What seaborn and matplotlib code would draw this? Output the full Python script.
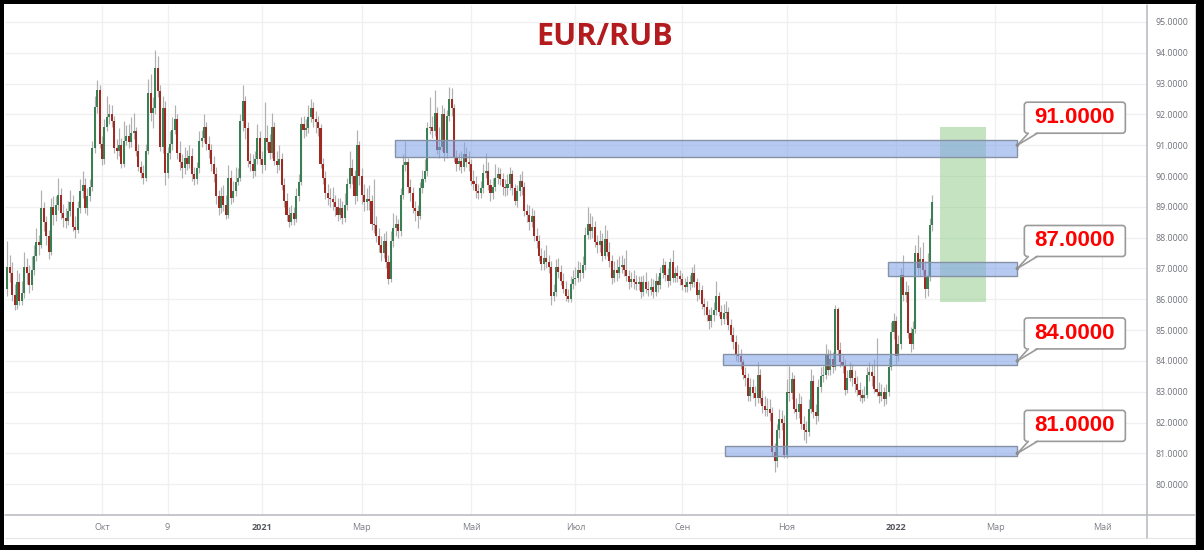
import numpy as np
import pandas as pd
import matplotlib
matplotlib.use("Agg")
import matplotlib.pyplot as plt
from matplotlib.patches import Rectangle, FancyBboxPatch, Polygon, Circle
from matplotlib.lines import Line2D
from matplotlib.transforms import IdentityTransform
import seaborn as sns

sns.set_theme(style="white")
plt.rcParams['font.family'] = ['Open Sans', 'DejaVu Sans']

# daily EUR/RUB candles, first trading day 2020-08-07
start_date = "2020-08-07"

opens = [
    86.35, 87.05, 86.85, 86.15, 85.80, 86.55, 85.95, 86.20, 87.05, 86.85,
    86.45, 86.95, 87.40, 87.85, 87.75, 88.95, 88.50, 88.05, 87.55, 89.00,
    88.75, 89.05, 89.40, 88.80, 88.65, 88.55, 88.85, 89.15, 88.35, 88.25,
    88.95, 89.50, 89.70, 88.95, 89.35, 89.65, 90.90, 92.25, 92.80, 91.05,
    90.55, 91.60, 91.90, 92.00, 91.80, 90.90, 90.80, 91.00, 90.40, 91.15,
    91.30, 91.10, 91.40, 91.45, 90.80, 90.30, 90.10, 89.95, 90.80, 92.70,
    92.05, 92.20, 93.50, 92.75, 90.95, 92.20, 90.10, 90.75, 91.05, 91.50,
    91.85, 90.75, 90.45, 90.25, 90.60, 90.40, 90.65, 90.05, 89.90, 90.25,
    91.15, 91.25, 91.60, 91.05, 90.85, 90.40, 90.05, 89.35, 88.95, 89.35,
    89.05, 88.75, 89.95, 89.30, 89.50, 89.80, 89.95, 91.80, 92.45, 91.55,
    90.50, 90.40, 90.15, 90.55, 91.25, 90.55, 90.35, 91.25, 91.10, 90.75,
    91.60, 90.50, 90.35, 90.55, 89.70, 89.20, 88.75, 88.50, 88.80, 88.60,
    89.35, 89.80, 91.70, 91.50, 91.55, 91.90, 92.20, 91.85, 91.75, 91.55,
    90.40, 89.95, 89.45, 89.30, 89.25, 89.15, 89.00, 88.75, 88.95, 88.65,
    89.05, 89.75, 90.25, 90.00, 89.35, 91.00, 90.00, 89.40, 89.15, 89.25,
    89.20, 88.45, 88.40, 88.05, 87.75, 87.50, 87.90, 87.20, 86.65, 87.90,
    88.30, 88.45, 88.20, 89.40, 90.35, 90.45, 89.65, 89.45, 88.95, 88.85,
    88.70, 89.60, 89.90, 90.15, 91.55, 91.60, 91.45, 92.05, 90.85, 90.95,
    92.00, 90.75, 91.95, 92.50, 92.20, 90.60, 90.40, 90.50, 90.30, 90.70,
    90.45, 90.40, 89.85, 89.75, 89.50, 89.45, 89.60, 90.10, 90.15, 89.70,
    89.45, 89.65, 89.95, 90.05, 89.90, 89.65, 89.60, 89.75, 90.05, 89.60,
    89.20, 89.50, 89.85, 89.65, 88.85, 88.75, 88.50, 88.70, 88.05, 87.90,
    87.40, 87.15, 87.35, 87.20, 87.05, 86.10, 86.25, 87.05, 86.90, 86.60,
    86.35, 86.10, 86.00, 86.50, 86.65, 86.70, 86.95, 86.85, 87.10, 88.10,
    88.45, 88.20, 88.35, 87.85, 87.75, 87.90, 87.40, 87.95, 87.55, 87.25,
    86.70, 86.95, 86.85, 87.05, 87.10, 86.95, 86.75, 86.55, 86.65, 86.55,
    86.50, 86.55, 86.25, 86.55, 86.35, 86.30, 86.40, 86.25, 86.60, 86.45,
    86.85, 87.10, 86.80, 86.60, 87.20, 86.70, 86.85, 86.75, 86.65, 86.45,
    86.40, 86.55, 86.50, 86.85, 86.55, 86.15, 86.30, 85.85, 85.75, 85.50,
    85.30, 85.50, 85.65, 86.10, 85.60, 85.35, 85.55, 85.60, 85.15, 84.85,
    84.60, 84.20, 84.15, 83.95, 83.55, 83.45, 82.85, 83.15, 82.95, 82.80,
    83.55, 82.80, 82.55, 82.40, 82.45, 82.30, 81.05, 80.75, 81.75, 82.10,
    82.00, 80.95, 83.00, 82.95, 83.40, 82.45, 82.35, 82.60, 81.95, 81.75,
    81.70, 82.45, 83.35, 82.35, 82.20, 83.15, 83.50, 83.55, 84.20, 83.70,
    84.05, 83.80, 85.70, 84.35, 83.95, 83.85, 83.05, 83.45, 83.70, 83.45,
    83.25, 83.05, 82.90, 82.80, 82.90, 83.55, 83.65, 83.50, 83.10, 83.00,
    82.85, 83.00, 82.75, 83.00, 83.80, 84.95, 85.30, 84.15, 84.55, 86.80,
    86.15, 86.25, 84.90, 84.55, 85.05, 87.50, 87.00, 87.30, 86.95, 86.35,
    86.75, 88.40,
]

closes = [
    87.05, 86.85, 86.15, 85.80, 86.55, 85.95, 86.20, 87.05, 86.85, 86.45,
    86.95, 87.40, 87.85, 87.75, 88.95, 88.50, 88.05, 87.55, 89.00, 88.75,
    89.05, 89.40, 88.80, 88.65, 88.55, 88.85, 89.15, 88.35, 88.25, 88.95,
    89.50, 89.70, 88.95, 89.35, 89.65, 90.90, 92.25, 92.80, 91.05, 90.55,
    91.60, 91.90, 92.00, 91.80, 90.90, 90.80, 91.00, 90.40, 91.15, 91.30,
    91.10, 91.40, 91.45, 90.80, 90.30, 90.10, 89.95, 90.80, 92.70, 92.05,
    92.20, 93.50, 92.75, 90.95, 92.20, 90.10, 90.75, 91.05, 91.50, 91.85,
    90.75, 90.45, 90.25, 90.60, 90.40, 90.65, 90.05, 89.90, 90.25, 91.15,
    91.25, 91.60, 91.05, 90.85, 90.40, 90.05, 89.35, 88.95, 89.35, 89.05,
    88.75, 89.95, 89.30, 89.50, 89.80, 89.95, 91.80, 92.45, 91.55, 90.50,
    90.40, 90.15, 90.55, 91.25, 90.55, 90.35, 91.25, 91.10, 90.75, 91.60,
    90.50, 90.35, 90.55, 89.70, 89.20, 88.75, 88.50, 88.80, 88.60, 89.35,
    89.80, 91.70, 91.50, 91.55, 91.90, 92.20, 91.85, 91.75, 91.55, 90.40,
    89.95, 89.45, 89.30, 89.25, 89.15, 89.00, 88.75, 88.95, 88.65, 89.05,
    89.75, 90.25, 90.00, 89.35, 91.00, 90.00, 89.40, 89.15, 89.25, 89.20,
    88.45, 88.40, 88.05, 87.75, 87.50, 87.90, 87.20, 86.65, 87.90, 88.30,
    88.45, 88.20, 89.40, 90.35, 90.45, 89.65, 89.45, 88.95, 88.85, 88.70,
    89.60, 89.90, 90.15, 91.55, 91.60, 91.45, 92.05, 90.85, 90.95, 92.00,
    90.75, 91.95, 92.50, 92.20, 90.60, 90.40, 90.50, 90.30, 90.70, 90.45,
    90.40, 89.85, 89.75, 89.50, 89.45, 89.60, 90.10, 90.15, 89.70, 89.45,
    89.65, 89.95, 90.05, 89.90, 89.65, 89.60, 89.75, 90.05, 89.60, 89.20,
    89.50, 89.85, 89.65, 88.85, 88.75, 88.50, 88.70, 88.05, 87.90, 87.40,
    87.15, 87.35, 87.20, 87.05, 86.10, 86.25, 87.05, 86.90, 86.60, 86.35,
    86.10, 86.00, 86.50, 86.65, 86.70, 86.95, 86.85, 87.10, 88.10, 88.45,
    88.20, 88.35, 87.85, 87.75, 87.90, 87.40, 87.95, 87.55, 87.25, 86.70,
    86.95, 86.85, 87.05, 87.10, 86.95, 86.75, 86.55, 86.65, 86.55, 86.50,
    86.55, 86.25, 86.55, 86.35, 86.30, 86.40, 86.25, 86.60, 86.45, 86.85,
    87.10, 86.80, 86.60, 87.20, 86.70, 86.85, 86.75, 86.65, 86.45, 86.40,
    86.55, 86.50, 86.85, 86.55, 86.15, 86.30, 85.85, 85.75, 85.50, 85.30,
    85.50, 85.65, 86.10, 85.60, 85.35, 85.55, 85.60, 85.15, 84.85, 84.60,
    84.20, 84.15, 83.95, 83.55, 83.45, 82.85, 83.15, 82.95, 82.80, 83.55,
    82.80, 82.55, 82.40, 82.45, 82.30, 81.05, 80.75, 81.75, 82.10, 82.00,
    80.95, 83.00, 82.95, 83.40, 82.45, 82.35, 82.60, 81.95, 81.75, 81.70,
    82.45, 83.35, 82.35, 82.20, 83.15, 83.50, 83.55, 84.20, 83.70, 84.05,
    83.80, 85.70, 84.35, 83.95, 83.85, 83.05, 83.45, 83.70, 83.45, 83.25,
    83.05, 82.90, 82.80, 82.90, 83.55, 83.65, 83.50, 83.10, 83.00, 82.85,
    83.00, 82.75, 83.00, 83.80, 84.95, 85.30, 84.15, 84.55, 86.80, 86.15,
    86.25, 84.90, 84.55, 85.05, 87.50, 87.00, 87.30, 86.95, 86.35, 86.75,
    88.40, 89.15,
]

highs = [
    87.90, 87.45, 87.20, 86.50, 86.95, 86.85, 86.60, 87.55, 87.35, 87.10,
    87.40, 87.75, 88.30, 88.10, 89.55, 89.15, 88.70, 88.25, 89.30, 89.35,
    89.35, 89.95, 89.60, 89.10, 88.95, 89.20, 89.55, 89.40, 88.70, 89.20,
    89.90, 90.15, 89.95, 89.60, 89.90, 91.15, 92.60, 93.10, 92.95, 91.30,
    91.85, 92.60, 92.35, 92.30, 91.95, 91.20, 91.55, 91.25, 91.80, 91.65,
    91.70, 91.90, 92.05, 91.60, 91.05, 90.50, 90.35, 91.05, 93.15, 93.30,
    92.55, 94.10, 93.90, 92.95, 92.60, 92.45, 90.95, 91.45, 91.90, 92.30,
    92.00, 91.15, 90.70, 90.95, 90.85, 91.00, 90.90, 90.30, 90.45, 91.45,
    91.50, 92.00, 91.75, 91.30, 91.05, 90.65, 90.30, 89.55, 89.65, 89.70,
    89.40, 90.35, 90.20, 89.85, 90.30, 90.25, 92.00, 92.95, 92.60, 91.75,
    90.75, 90.70, 90.80, 91.70, 91.45, 90.80, 92.40, 91.65, 91.35, 92.05,
    91.75, 90.80, 91.00, 90.75, 89.95, 89.45, 89.00, 89.05, 89.00, 89.60,
    90.05, 91.90, 91.95, 91.85, 92.30, 92.50, 92.40, 92.10, 91.95, 91.70,
    90.60, 90.15, 89.75, 89.60, 89.65, 89.40, 89.30, 89.30, 89.20, 89.45,
    89.95, 90.80, 90.55, 90.20, 91.50, 91.15, 90.25, 89.75, 89.60, 89.70,
    89.40, 89.90, 88.70, 88.30, 88.05, 88.15, 88.20, 87.45, 88.20, 88.80,
    88.75, 88.60, 89.60, 90.70, 91.15, 90.60, 89.90, 89.65, 89.20, 89.05,
    89.80, 90.20, 90.55, 91.75, 92.55, 91.95, 92.80, 92.25, 91.60, 92.30,
    92.20, 92.15, 92.90, 92.85, 92.35, 90.85, 90.75, 90.80, 91.10, 90.95,
    90.80, 90.55, 90.20, 90.00, 89.75, 89.85, 90.40, 90.75, 90.45, 89.90,
    89.95, 90.40, 90.30, 90.25, 90.10, 89.90, 90.05, 90.30, 90.20, 89.75,
    89.70, 90.05, 90.15, 89.80, 89.10, 89.05, 88.95, 88.90, 88.30, 88.10,
    87.65, 87.60, 87.75, 87.45, 87.25, 86.50, 87.30, 87.35, 87.10, 86.85,
    86.60, 86.35, 86.75, 86.95, 87.05, 87.25, 87.20, 87.40, 88.35, 89.00,
    88.80, 88.70, 88.55, 88.10, 88.25, 88.15, 88.40, 88.25, 87.85, 87.45,
    87.25, 87.30, 87.40, 87.45, 87.35, 87.60, 86.95, 86.90, 86.95, 86.80,
    86.75, 86.75, 86.80, 86.90, 86.60, 86.70, 86.65, 86.85, 86.75, 87.05,
    87.35, 87.25, 87.00, 87.35, 87.60, 87.05, 87.10, 86.95, 86.85, 86.70,
    86.75, 86.80, 87.05, 87.15, 86.70, 86.55, 86.45, 86.05, 85.95, 85.70,
    85.75, 85.90, 86.60, 86.25, 85.80, 85.85, 85.95, 85.75, 85.35, 85.10,
    84.85, 84.55, 84.40, 84.05, 83.80, 83.60, 83.45, 83.40, 83.20, 83.95,
    83.75, 83.05, 82.85, 82.80, 82.75, 82.50, 81.35, 81.95, 82.45, 82.40,
    82.25, 83.40, 83.85, 83.65, 83.55, 82.80, 82.95, 82.85, 82.20, 82.05,
    82.75, 83.75, 83.55, 82.60, 83.40, 83.80, 83.85, 84.55, 84.40, 84.35,
    84.30, 85.80, 85.75, 84.60, 84.20, 84.05, 83.70, 83.95, 83.90, 83.70,
    83.50, 83.30, 83.10, 83.20, 83.80, 83.95, 83.90, 84.05, 84.75, 83.30,
    83.25, 83.15, 83.25, 84.10, 85.25, 85.55, 85.45, 84.85, 87.00, 87.45,
    86.60, 86.45, 85.10, 85.30, 87.75, 88.10, 87.70, 87.85, 87.25, 87.50,
    88.65, 89.40,
]

lows = [
    86.10, 86.55, 85.95, 85.65, 85.70, 85.80, 85.80, 86.05, 86.50, 86.20,
    86.30, 86.80, 87.25, 87.45, 87.65, 88.20, 87.75, 87.30, 87.45, 88.40,
    88.55, 88.90, 88.60, 88.35, 88.30, 88.40, 88.70, 88.20, 88.00, 88.15,
    88.80, 89.30, 88.80, 88.75, 89.20, 89.50, 90.75, 92.05, 90.90, 90.35,
    90.40, 91.45, 91.70, 91.60, 90.75, 90.55, 90.65, 90.25, 90.30, 91.00,
    90.90, 90.95, 91.20, 90.65, 90.15, 89.95, 89.75, 89.85, 90.70, 91.80,
    91.55, 92.00, 92.55, 90.80, 90.75, 89.70, 89.95, 90.55, 90.85, 91.35,
    90.55, 90.20, 89.95, 90.05, 90.20, 90.25, 89.85, 89.70, 89.75, 90.10,
    90.95, 91.10, 90.85, 90.60, 90.15, 89.80, 89.10, 88.75, 88.80, 88.85,
    88.60, 88.65, 89.10, 89.15, 89.35, 89.70, 89.85, 91.45, 91.20, 90.30,
    90.15, 89.95, 90.00, 90.40, 90.40, 90.10, 90.20, 90.85, 90.55, 90.60,
    90.35, 90.10, 90.20, 89.55, 89.00, 88.55, 88.35, 88.40, 88.40, 88.50,
    89.20, 89.70, 91.25, 91.30, 91.40, 91.75, 91.60, 91.40, 91.30, 90.25,
    89.75, 89.25, 89.05, 89.00, 88.90, 88.70, 88.55, 88.60, 88.45, 88.50,
    88.90, 89.60, 89.75, 89.10, 89.20, 89.70, 89.10, 88.85, 88.90, 88.90,
    88.25, 88.15, 87.85, 87.55, 87.25, 87.35, 87.00, 86.50, 86.55, 87.70,
    88.05, 88.00, 88.05, 89.25, 90.15, 89.45, 89.20, 88.80, 88.55, 88.30,
    88.60, 89.45, 89.80, 90.00, 91.35, 91.25, 91.30, 90.70, 90.60, 90.80,
    90.50, 90.60, 91.80, 91.95, 90.45, 90.15, 90.20, 90.10, 90.15, 90.30,
    90.15, 89.70, 89.55, 89.30, 89.25, 89.30, 89.45, 89.95, 89.55, 89.20,
    89.25, 89.50, 89.75, 89.70, 89.40, 89.35, 89.40, 89.55, 89.40, 89.05,
    89.00, 89.35, 89.40, 88.70, 88.50, 88.25, 88.35, 87.90, 87.65, 87.25,
    86.95, 86.95, 87.00, 86.85, 85.80, 85.95, 86.10, 86.70, 86.45, 86.20,
    85.95, 85.90, 85.90, 86.35, 86.45, 86.55, 86.60, 86.70, 86.95, 87.95,
    87.95, 88.00, 87.70, 87.50, 87.55, 87.25, 87.30, 87.40, 87.05, 86.50,
    86.55, 86.60, 86.70, 86.85, 86.75, 86.60, 86.35, 86.40, 86.35, 86.30,
    86.30, 86.05, 86.10, 86.20, 86.10, 86.15, 86.05, 86.10, 86.25, 86.35,
    86.70, 86.60, 86.40, 86.45, 86.55, 86.55, 86.55, 86.45, 86.30, 86.25,
    86.25, 86.30, 86.40, 86.40, 85.95, 86.00, 85.70, 85.50, 85.30, 85.05,
    85.10, 85.30, 85.50, 85.45, 85.15, 85.20, 85.35, 85.00, 84.65, 84.40,
    84.00, 83.95, 83.75, 83.40, 83.20, 82.70, 82.70, 82.80, 82.55, 82.65,
    82.65, 82.30, 82.20, 82.20, 82.05, 80.90, 80.40, 80.55, 81.50, 81.75,
    80.85, 80.85, 82.70, 82.75, 82.30, 82.10, 82.15, 81.80, 81.45, 81.35,
    81.55, 82.30, 82.15, 81.95, 82.05, 83.00, 83.30, 83.40, 83.55, 83.55,
    83.60, 83.70, 84.20, 83.80, 83.60, 82.90, 82.95, 83.35, 83.20, 83.00,
    82.85, 82.70, 82.65, 82.70, 82.80, 83.35, 83.20, 82.95, 82.85, 82.65,
    82.70, 82.55, 82.60, 82.85, 83.70, 84.70, 83.90, 84.00, 84.40, 85.95,
    85.90, 84.75, 84.30, 84.40, 84.90, 86.80, 86.75, 86.80, 86.05, 86.10,
    86.60, 88.20,
]

# x axis labels (Russian month names as on the chart)
tick_dates = ["2020-10-01", "2020-11-09", "2021-01-01", "2021-03-01", "2021-05-03",
              "2021-07-01", "2021-09-01", "2021-11-01", "2022-01-03", "2022-03-01",
              "2022-05-02"]
tick_labels = ["Окт", "9", "2021", "Мар", "Май", "Июл", "Сен", "Ноя", "2022", "Мар", "Май"]
price_ticks = list(range(80, 96))

# support / resistance zones
zone_names = ["91.0000", "87.0000", "84.0000", "81.0000"]
zone_levels = [91.0, 87.0, 84.0, 81.0]
zone_lo = [90.62, 86.77, 83.86, 80.90]
zone_hi = [91.17, 87.20, 84.22, 81.23]
zone_start = ["2021-03-19", "2021-12-29", "2021-09-24", "2021-09-27"]
zone_end = "2022-03-14"

# target box
target_start, target_end = "2022-01-27", "2022-02-23"
target_lo, target_hi = 85.9, 91.6

GREEN = "#387f53"
RED = "#9f2a24"
WICK = "#b0b0b0"
W, H = 1204, 550

axis_days = pd.bdate_range(start_date, "2022-06-30")
def pos(d):
    return axis_days.get_loc(pd.Timestamp(d))

o = np.array(opens); c = np.array(closes); hi = np.array(highs); lo = np.array(lows)
x = np.arange(len(c))

fig = plt.figure(figsize=(W / 100, H / 100), dpi=100)
ax = fig.add_axes([5 / W, 35 / H, 1142 / W, 510 / H])
ax.set_xlim(-0.95, 469.4)
ax.set_ylim(79.0, 95.55)

ax.set_yticks(price_ticks)
ax.set_yticklabels([f"{v:.4f}" for v in price_ticks])
ax.set_xticks([pos(d) for d in tick_dates])
ax.set_xticklabels(tick_labels)
ax.yaxis.tick_right()
ax.tick_params(axis="y", length=0, pad=6, labelsize=6.3, labelcolor="#6f727a")
ax.tick_params(axis="x", length=0, pad=6, labelsize=6.5, labelcolor="#7c7f87")
for t in ax.get_xticklabels():
    if t.get_text() in ("2021", "2022"):
        t.set_fontweight("bold")
        t.set_color("#55585f")
ax.grid(True, color="#f0f0f0", linewidth=1.0)
ax.set_axisbelow(True)
for s in ax.spines.values():
    s.set_visible(False)

# target box
t0, t1 = pos(target_start), pos(target_end)
ax.add_patch(Rectangle((t0, target_lo), t1 - t0, target_hi - target_lo,
                       facecolor="#8cc985", alpha=0.5, linewidth=0, zorder=1))

# candles
up = c >= o
ax.vlines(x, lo, hi, color=WICK, linewidth=0.85, zorder=3)
ax.bar(x, np.maximum(np.abs(c - o), 0.04), bottom=np.minimum(o, c), width=0.85,
       color=np.where(up, GREEN, RED), linewidth=0, zorder=4)

# zones and callouts
for name, lvl, zl, zh, zs in zip(zone_names, zone_levels, zone_lo, zone_hi, zone_start):
    s, e = pos(zs) - 0.3, pos(zone_end)
    ax.add_patch(Rectangle((s, zl), e - s, zh - zl, facecolor=(0.49, 0.63, 0.91, 0.55),
                           edgecolor="#8591a5", linewidth=1.0, zorder=5))
    tx, ty = ax.transData.transform((e, lvl))
    L, B, bw, bh = tx + 7, ty + 12, 101, 31
    fig.add_artist(FancyBboxPatch((L, B), bw, bh, boxstyle="round,pad=0,rounding_size=3",
                                  transform=IdentityTransform(), facecolor="white",
                                  edgecolor="#9a9a9a", linewidth=1.2, zorder=10))
    fig.add_artist(Polygon([(L + 4, B + 1.5), (L + 13, B + 1.5), (tx, ty)], closed=True,
                           transform=IdentityTransform(), facecolor="white",
                           edgecolor="none", zorder=11))
    for bx in (L + 4, L + 13):
        fig.add_artist(Line2D([bx, tx], [B, ty], transform=IdentityTransform(),
                              color="#9a9a9a", linewidth=1.2, zorder=12))
    fig.add_artist(Circle((tx, ty), 1.8, transform=IdentityTransform(),
                          facecolor="#8c8c8c", edgecolor="none", zorder=13))
    fig.text(L + bw / 2, B + bh / 2, name, transform=IdentityTransform(),
             ha="center", va="center", fontsize=16, fontweight="bold", color="#ff0000",
             family=["Liberation Sans", "DejaVu Sans"], zorder=14)

fig.text(605 / W, 1 - 37 / H, "EUR/RUB", ha="center", va="center", fontsize=22,
         fontweight="bold", color="#b31b1e")

# panel separators and outer frame (pixel coordinates from top-left)
def hline(y, x0, x1, color, lw):
    fig.add_artist(Line2D([x0 / W, x1 / W], [1 - y / H, 1 - y / H], color=color, linewidth=lw))
def vline(xp, y0, y1, color, lw):
    fig.add_artist(Line2D([xp / W, xp / W], [1 - y0 / H, 1 - y1 / H], color=color, linewidth=lw))

hline(515, 5, 1195, "#b5b8bf", 1.1)
hline(538, 5, 1195, "#e6e6e6", 0.8)
vline(1147, 5, 538, "#b5b8bf", 1.1)
vline(1195, 5, 545, "#d0d0d0", 0.8)

for rx, ry, rw, rh in [(0, 0, W, 4), (0, 545, W, 5), (0, 0, 4, H), (1196, 0, 8, H)]:
    fig.add_artist(Rectangle((rx / W, 1 - (ry + rh) / H), rw / W, rh / H,
                             transform=fig.transFigure, facecolor="black",
                             edgecolor="none", zorder=20))

fig.savefig("out.png", dpi=100)
